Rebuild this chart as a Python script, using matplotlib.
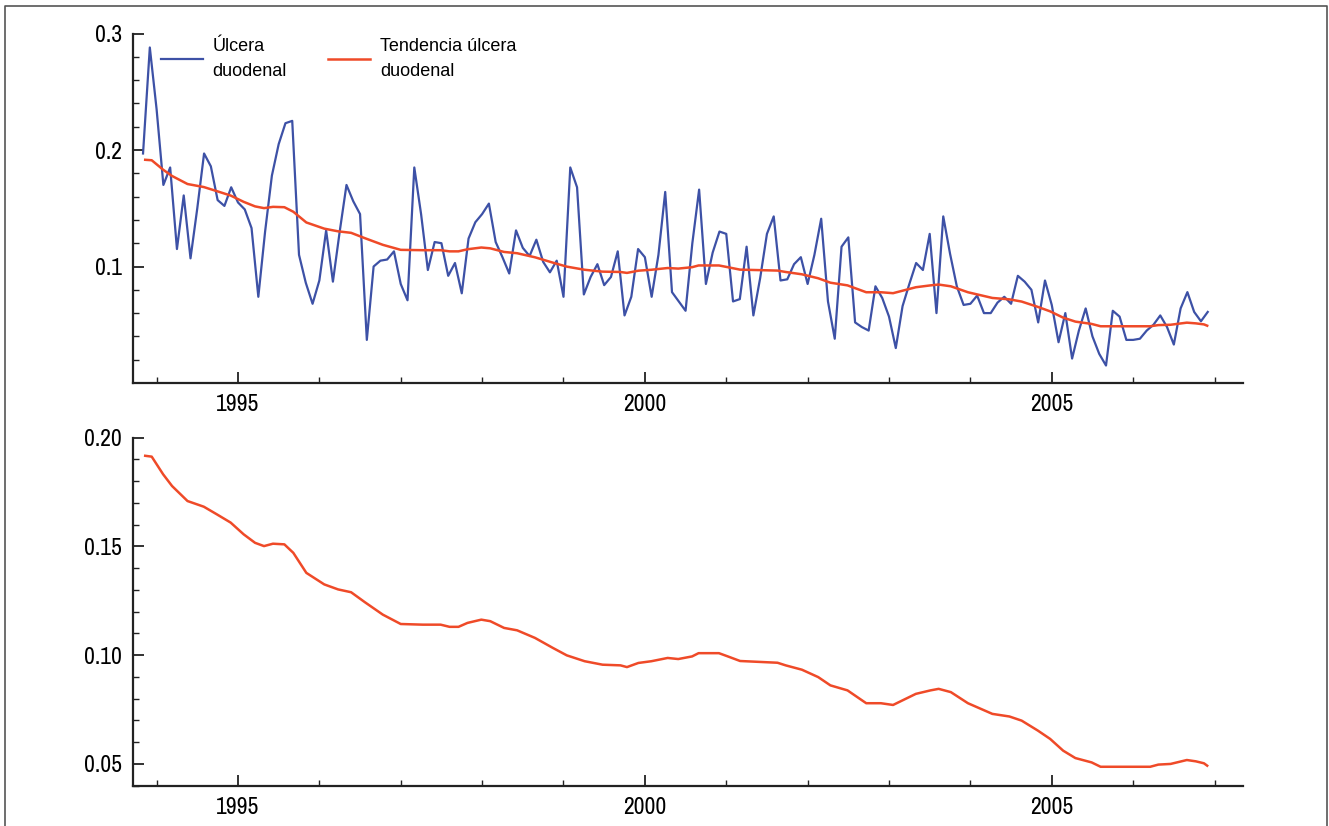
import matplotlib
matplotlib.use("Agg")
import matplotlib.pyplot as plt
import numpy as np
import pandas as pd
from matplotlib import font_manager
from matplotlib.lines import Line2D
from matplotlib.ticker import FixedLocator

# monthly series, starting Nov 1993
start_month = "1993-11-01"
ulcera = [0.197, 0.288, 0.235, 0.170, 0.185, 0.115, 0.161, 0.107, 0.150, 0.197,
          0.186, 0.157, 0.152, 0.168, 0.155, 0.149, 0.133, 0.074, 0.130, 0.178,
          0.205, 0.223, 0.225, 0.110, 0.086, 0.068, 0.088, 0.131, 0.087, 0.130,
          0.170, 0.156, 0.145, 0.037, 0.100, 0.105, 0.106, 0.113, 0.085, 0.071,
          0.185, 0.145, 0.097, 0.121, 0.120, 0.092, 0.103, 0.077, 0.124, 0.138,
          0.145, 0.154, 0.121, 0.108, 0.094, 0.131, 0.116, 0.109, 0.123, 0.104,
          0.095, 0.105, 0.074, 0.185, 0.168, 0.076, 0.091, 0.102, 0.084, 0.091,
          0.113, 0.058, 0.074, 0.115, 0.108, 0.074, 0.110, 0.164, 0.078, 0.070,
          0.062, 0.120, 0.166, 0.085, 0.112, 0.130, 0.128, 0.070, 0.072, 0.117,
          0.058, 0.090, 0.128, 0.143, 0.088, 0.089, 0.102, 0.108, 0.085, 0.110,
          0.141, 0.070, 0.038, 0.117, 0.125, 0.052, 0.048, 0.045, 0.083, 0.073,
          0.057, 0.030, 0.066, 0.085, 0.103, 0.097, 0.128, 0.060, 0.143, 0.111,
          0.083, 0.067, 0.068, 0.075, 0.060, 0.060, 0.069, 0.074, 0.068, 0.092,
          0.087, 0.080, 0.052, 0.088, 0.067, 0.035, 0.060, 0.021, 0.045, 0.064,
          0.040, 0.025, 0.015, 0.062, 0.057, 0.037, 0.037, 0.038, 0.045, 0.050,
          0.058, 0.048, 0.033, 0.064, 0.078, 0.061, 0.053, 0.061]

# trend
trend_years = [1993.86, 1993.94, 1994.08, 1994.19, 1994.38, 1994.58, 1994.74, 1994.91,
               1995.07, 1995.21, 1995.32, 1995.43, 1995.57, 1995.68, 1995.84, 1996.06,
               1996.23, 1996.39, 1996.56, 1996.78, 1997.00, 1997.27, 1997.49, 1997.60,
               1997.71, 1997.82, 1997.99, 1998.10, 1998.27, 1998.43, 1998.65, 1998.87,
               1999.04, 1999.26, 1999.48, 1999.70, 1999.78, 1999.92, 2000.08, 2000.28,
               2000.41, 2000.58, 2000.66, 2000.91, 2001.02, 2001.17, 2001.63, 2001.73,
               2001.93, 2002.13, 2002.28, 2002.49, 2002.72, 2002.90, 2003.05, 2003.33,
               2003.51, 2003.61, 2003.76, 2003.97, 2004.27, 2004.48, 2004.63, 2004.83,
               2004.98, 2005.14, 2005.29, 2005.49, 2005.60, 2006.21, 2006.31, 2006.46,
               2006.66, 2006.77, 2006.87, 2006.91]
tendencia = [0.1916, 0.1912, 0.1831, 0.1777, 0.1708, 0.1682, 0.1647, 0.1609,
             0.1555, 0.1516, 0.1501, 0.1512, 0.1509, 0.1470, 0.1378, 0.1325,
             0.1302, 0.1289, 0.1243, 0.1186, 0.1143, 0.1140, 0.1140, 0.1130,
             0.1130, 0.1148, 0.1163, 0.1156, 0.1125, 0.1114, 0.1079, 0.1033,
             0.0999, 0.0972, 0.0956, 0.0953, 0.0945, 0.0964, 0.0972, 0.0987,
             0.0982, 0.0994, 0.1009, 0.1009, 0.0994, 0.0973, 0.0965, 0.0953,
             0.0933, 0.0899, 0.0861, 0.0838, 0.0779, 0.0779, 0.0771, 0.0822,
             0.0838, 0.0845, 0.0830, 0.0779, 0.0730, 0.0718, 0.0699, 0.0653,
             0.0615, 0.0561, 0.0527, 0.0507, 0.0487, 0.0487, 0.0497, 0.0500,
             0.0518, 0.0512, 0.0503, 0.0492]

year_ticks = [1995, 2000, 2005]
year_minor = list(range(1994, 2008))
top_yticks = [0.1, 0.2, 0.3]
top_ylabels = ["0.1", "0.2", "0.3"]
bot_yticks = [0.05, 0.10, 0.15, 0.20]
bot_ylabels = ["0.05", "0.10", "0.15", "0.20"]

# narrow font for tick labels if one exists
names = sorted({f.name for f in font_manager.fontManager.ttflist})
narrow = [n for n in names if "Narrow" in n or "Condensed" in n]
tick_font = narrow[0] if narrow else "Liberation Sans"
plt.rcParams['font.family'] = ['Liberation Sans', 'DejaVu Sans']

dates = pd.date_range(start_month, periods=len(ulcera), freq="MS")
t = dates.year + (dates.month - 1) / 12.0

blue = "#3d51a6"
red = "#ef4a28"

W, H = 1329, 826
fig = plt.figure(figsize=(W / 100, H / 100), dpi=100)
ax1 = fig.add_axes([133 / W, 1 - 383 / H, 1110 / W, 349.5 / H])
ax2 = fig.add_axes([133 / W, 1 - 785.7 / H, 1110 / W, 348.2 / H])

ax1.plot(t, ulcera, color=blue, lw=1.6, label="Úlcera\nduodenal")
ax1.plot(trend_years, tendencia, color=red, lw=1.8, label="Tendencia úlcera\nduodenal")
ax2.plot(trend_years, tendencia, color=red, lw=1.8)

for ax in (ax1, ax2):
    ax.set_xlim(1993.71, 2007.35)
    for s in ("top", "right"):
        ax.spines[s].set_visible(False)
    for s in ("left", "bottom"):
        ax.spines[s].set_linewidth(1.6)
        ax.spines[s].set_color("#222222")
    ax.xaxis.set_major_locator(FixedLocator(year_ticks))
    ax.xaxis.set_minor_locator(FixedLocator(year_minor))
    ax.set_xticklabels([str(y) for y in year_ticks])
    ax.tick_params(which="major", direction="in", length=8, width=1.3,
                   color="#222222", labelsize=17, pad=8)
    ax.tick_params(which="minor", direction="in", length=4, width=1.0, color="#222222")
    for lab in ax.get_xticklabels() + ax.get_yticklabels():
        lab.set_family(tick_font)

ax1.set_ylim(0, 0.3)
ax1.yaxis.set_major_locator(FixedLocator(top_yticks))
ax1.yaxis.set_minor_locator(FixedLocator(np.arange(0.02, 0.29, 0.02)))
ax1.set_yticklabels(top_ylabels, family=tick_font)

ax2.set_ylim(0.04, 0.20)
ax2.yaxis.set_major_locator(FixedLocator(bot_yticks))
ax2.yaxis.set_minor_locator(FixedLocator(np.arange(0.04, 0.20, 0.01)))
ax2.set_yticklabels(bot_ylabels, family=tick_font)

leg = ax1.legend(loc="upper left", bbox_to_anchor=(161 / W, 1 - 38 / H),
                 bbox_transform=fig.transFigure, ncol=2, frameon=False, fontsize=13,
                 handlelength=2.3, handletextpad=0.55, columnspacing=2.3,
                 borderpad=0, borderaxespad=0)
for txt in leg.get_texts():
    txt.set_linespacing(1.6)

# outer frame
fig.add_artist(Line2D([5 / W, 5 / W, 1327 / W, 1327 / W], [0, 1 - 6 / H, 1 - 6 / H, 0],
                      transform=fig.transFigure, color="#555555", lw=1.2))

fig.savefig("out.png", dpi=100)
